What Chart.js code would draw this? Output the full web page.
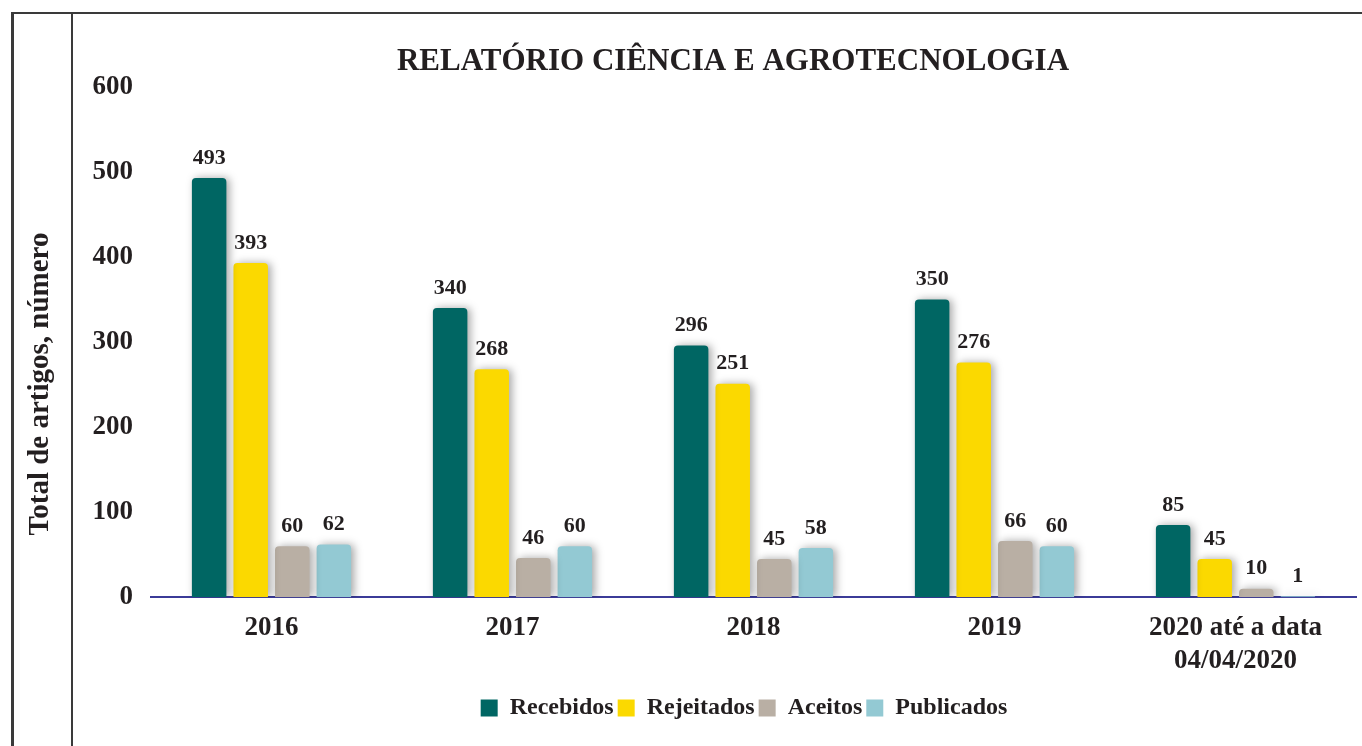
<!DOCTYPE html>
<html lang="pt">
<head>
  <meta charset="UTF-8" />
  <title>Relatório Ciência e Agrotecnologia</title>
  <script src="https://cdn.jsdelivr.net/npm/chart.js"></script>
  <style>
    html, body {
      margin: 0;
      padding: 0;
      background: #fff;
    }

    .frame {
      position: relative;
      width: 1362px;
      height: 746px;
      overflow: hidden;
    }

    .line {
      position: absolute;
      background: #3a3a3a;
    }

    .line.top   { left: 11px; top: 12px; width: 1351px; height: 2px; }
    .line.left1 { left: 11px; top: 12px; width: 3px; height: 734px; }
    .line.left2 { left: 71px; top: 12px; width: 2px; height: 734px; }

    canvas {
      position: absolute;
      left: 0;
      top: 0;
    }
  </style>
</head>
<body>

  <div class="frame">
    <div class="line top"></div>
    <div class="line left1"></div>
    <div class="line left2"></div>
    <canvas id="chart" width="1362" height="746"></canvas>
  </div>

  <script>
    const categories = ['2016', '2017', '2018', '2019', ['2020 até a data', '04/04/2020']];
    const recebidos  = [493, 340, 296, 350, 85];
    const rejeitados = [393, 268, 251, 276, 45];
    const aceitos    = [60, 46, 45, 66, 10];
    const publicados = [62, 60, 58, 60, 1];
    const yTicks     = [0, 100, 200, 300, 400, 500, 600];

    const chartTitle = 'RELATÓRIO CIÊNCIA E AGROTECNOLOGIA';
    const yTitle = 'Total de artigos, número';

    const ink = '#231f20';
    const serif = "'Liberation Serif', 'DejaVu Serif', serif";

    // bar shadows, value labels, the two free texts, legend nudge
    const extras = {
      id: 'extras',
      afterLayout(chart) {
        // legend sits centred under the plot area, not the whole canvas
        chart.legend.left += 22;
        chart.legend.right += 22;
      },
      beforeDatasetDraw(chart) {
        const ctx = chart.ctx;
        ctx.save();
        ctx.shadowColor = 'rgba(0,0,0,0.35)';
        ctx.shadowBlur = 8;
        ctx.shadowOffsetX = 3;
        ctx.shadowOffsetY = 0;
      },
      afterDatasetDraw(chart) {
        chart.ctx.restore();
      },
      afterDatasetsDraw(chart) {
        const ctx = chart.ctx;
        ctx.save();
        ctx.font = `bold 22px ${serif}`;
        ctx.fillStyle = ink;
        ctx.textAlign = 'center';
        ctx.textBaseline = 'bottom';
        chart.data.datasets.forEach((ds, i) => {
          chart.getDatasetMeta(i).data.forEach((bar, j) => {
            ctx.fillText(ds.data[j], bar.x, bar.y - 9);
          });
        });
        ctx.restore();
      },
      afterDraw(chart) {
        const ctx = chart.ctx;
        ctx.save();
        ctx.fillStyle = ink;
        ctx.textAlign = 'center';
        ctx.textBaseline = 'middle';
        ctx.font = `bold 31px ${serif}`;
        ctx.fillText(chartTitle, 733, 62);
        ctx.translate(41, 384);
        ctx.rotate(-Math.PI / 2);
        ctx.font = `bold 29px ${serif}`;
        ctx.fillText(yTitle, 0, 0);
        ctx.restore();
      }
    };

    const barStyle = {
      borderRadius: 4,
      borderSkipped: 'bottom',
      categoryPercentage: 0.69,
      barPercentage: 0.83
    };

    new Chart(document.getElementById('chart'), {
      type: 'bar',
      data: {
        labels: categories,
        datasets: [
          { label: 'Recebidos',  data: recebidos,  backgroundColor: '#006663', ...barStyle },
          { label: 'Rejeitados', data: rejeitados, backgroundColor: '#fbd900', ...barStyle },
          { label: 'Aceitos',    data: aceitos,    backgroundColor: '#b9afa4', ...barStyle },
          { label: 'Publicados', data: publicados, backgroundColor: '#93c9d3', ...barStyle }
        ]
      },
      options: {
        responsive: false,
        animation: false,
        layout: {
          padding: { left: 88, right: 6, top: 87, bottom: 16 }
        },
        plugins: {
          title: { display: false },
          tooltip: { enabled: false },
          legend: {
            position: 'bottom',
            labels: {
              color: ink,
              font: { family: serif, size: 24, weight: 'bold' },
              boxWidth: 17,
              boxHeight: 17,
              padding: 4
            }
          }
        },
        scales: {
          x: {
            grid: { display: false, drawTicks: false },
            border: { display: true, color: '#3b3b98', width: 2 },
            ticks: {
              color: ink,
              padding: 15,
              font: { family: serif, size: 27, weight: 'bold', lineHeight: 1.2 }
            }
          },
          y: {
            min: 0,
            max: 600,
            afterFit(scale) { scale.width = 63; },
            afterBuildTicks(scale) { scale.ticks = yTicks.map(v => ({ value: v })); },
            grid: { display: false, drawTicks: false },
            border: { display: false },
            ticks: {
              color: ink,
              padding: 18,
              font: { family: serif, size: 27, weight: 'bold' }
            }
          }
        }
      },
      plugins: [extras]
    });
  </script>

</body>
</html>
